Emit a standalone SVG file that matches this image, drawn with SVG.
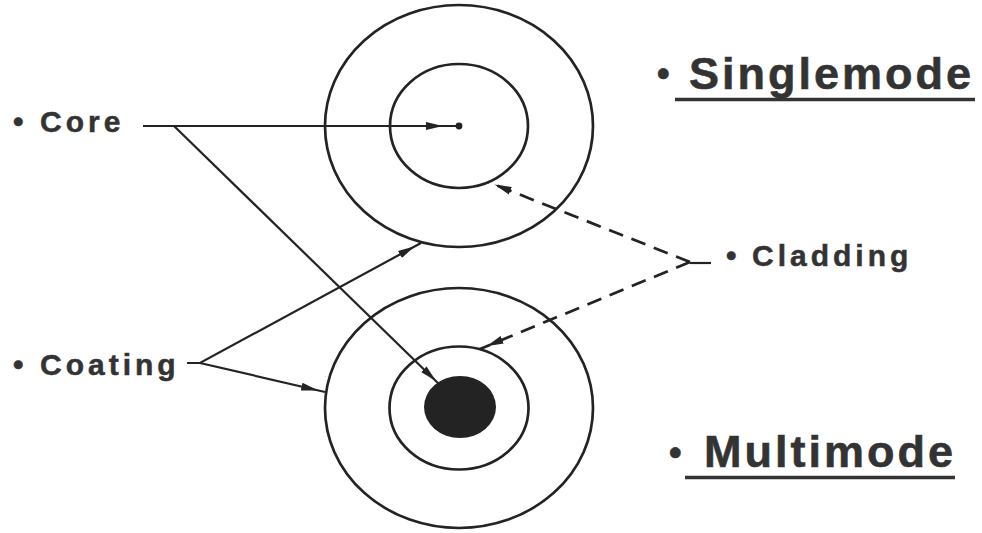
<svg xmlns="http://www.w3.org/2000/svg" width="982" height="533" viewBox="0 0 982 533">
<defs>
<style>
.ring{fill:none;stroke:#232323;stroke-width:2.7}
.ln{fill:none;stroke:#232323;stroke-width:2.2}
.dash{fill:none;stroke:#232323;stroke-width:2.7;stroke-dasharray:15 9}
.lbl{font-family:"Liberation Sans",Arial,sans-serif;font-weight:bold;font-size:30px;letter-spacing:4px;fill:#333333;stroke:#333333;stroke-width:0.5}
.big{font-family:"Liberation Sans",Arial,sans-serif;font-weight:bold;font-size:45px;letter-spacing:3px;fill:#333333;stroke:#333333;stroke-width:0.6}
.bul{font-size:36px;letter-spacing:0}
.ul{stroke:#333333;stroke-width:3.6}
</style>
<marker id="ah" viewBox="0 -5 26 10" refX="24" refY="0" markerWidth="26" markerHeight="10" markerUnits="userSpaceOnUse" orient="auto">
<path d="M0,-4 L17,0 L0,4 Z" fill="#232323"/>
</marker>
<marker id="ahc" viewBox="0 -5 34 10" refX="33" refY="0" markerWidth="34" markerHeight="10" markerUnits="userSpaceOnUse" orient="auto">
<path d="M0,-4 L17,0 L0,4 Z" fill="#232323"/>
</marker>
</defs>
<rect width="982" height="533" fill="#ffffff"/>
<g id="singlemode-fiber">
<ellipse class="ring" cx="459" cy="126" rx="134" ry="121"/>
<ellipse class="ring" cx="459" cy="126" rx="69" ry="62"/>
<circle cx="459" cy="126" r="3.4" fill="#232323"/>
</g>
<g id="multimode-fiber">
<ellipse class="ring" cx="459" cy="408" rx="134" ry="120"/>
<ellipse class="ring" cx="459" cy="408" rx="69.5" ry="61.5"/>
<ellipse cx="460" cy="407" rx="36" ry="31" fill="#232323"/>
</g>
<g id="connectors">
<path class="ln" d="M143,126 L459,126" marker-end="url(#ahc)"/>
<path class="ln" d="M174,126 L441,386" marker-end="url(#ah)"/>
<path class="ln" d="M187,363 L200,363 L421,243" marker-end="url(#ah)"/>
<path class="ln" d="M200,363 L325,392" marker-end="url(#ah)"/>
<path class="dash" d="M690,262 L488,182" marker-end="url(#ah)"/>
<path class="dash" d="M690,262 L480,349" marker-end="url(#ah)"/>
<path class="ln" d="M690,263 L711,263"/>
</g>
<g id="label-core">
<text class="lbl" y="132"><tspan x="13">•</tspan><tspan x="40">Core</tspan></text>
</g>
<g id="label-coating">
<text class="lbl" y="375"><tspan x="13">•</tspan><tspan x="40">Coating</tspan></text>
</g>
<g id="label-cladding">
<text class="lbl" y="266"><tspan x="726">•</tspan><tspan x="752">Cladding</tspan></text>
</g>
<g id="label-singlemode">
<text class="big"><tspan class="bul" x="657" y="86">•</tspan><tspan x="689" y="89">Singlemode</tspan></text>
<line class="ul" x1="675" y1="99.5" x2="975" y2="99.5"/>
</g>
<g id="label-multimode">
<text class="big"><tspan class="bul" x="669" y="465">•</tspan><tspan x="704" y="467">Multimode</tspan></text>
<line class="ul" x1="685" y1="477.5" x2="955" y2="477.5"/>
</g>
</svg>
